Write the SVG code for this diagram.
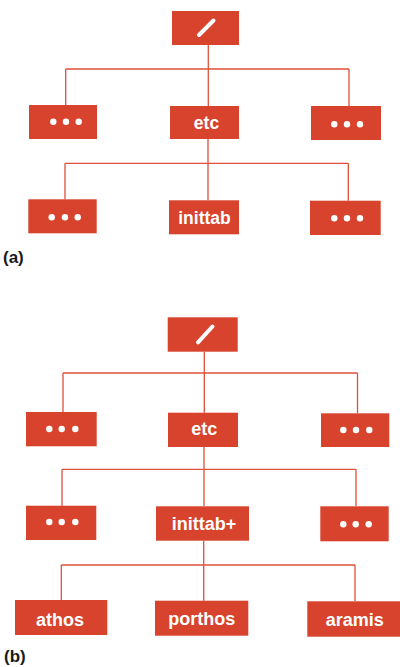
<svg xmlns="http://www.w3.org/2000/svg" width="400" height="667" viewBox="0 0 400 667">
  <style>
    .box { fill: #d8432d; }
    .link { fill: none; stroke: #e0503a; stroke-width: 1.3; }
    .lbl { fill: #ffffff; font-family: "Liberation Sans", Arial, sans-serif; font-weight: bold; text-anchor: middle; }
    .a { font-size: 17.5px; }
    .b { font-size: 18px; }
    .dot { fill: #ffffff; }
    .slash { stroke: #ffffff; stroke-width: 4; stroke-linecap: round; }
    .cap { fill: #1a1a1a; font-family: "Liberation Sans", Arial, sans-serif; font-weight: bold; font-size: 17px; }
  </style>

  <!-- tree (a) connectors -->
  <g id="links-a" class="link">
    <path d="M208.3 45 V69 M65.7 69 H349 M65.7 69 V105 M208.3 69 V106 M349 69 V106"/>
    <path d="M208 139 V163.3 M65 163.3 H348.3 M65 163.3 V199.3 M208 163.3 V200.3 M348.3 163.3 V200.7"/>
  </g>

  <!-- tree (a) nodes -->
  <g id="a-root">
    <rect class="box" x="172" y="11" width="67" height="34"/>
    <line class="slash" x1="199" y1="35" x2="213.5" y2="20.5"/>
  </g>
  <g id="a-left1">
    <rect class="box" x="29" y="105" width="68" height="34"/>
    <circle class="dot" cx="53.3" cy="121.7" r="3.2"/><circle class="dot" cx="66" cy="121.7" r="3.2"/><circle class="dot" cx="78.7" cy="121.7" r="3.2"/>
  </g>
  <g id="a-etc">
    <rect class="box" x="170" y="106" width="69" height="33"/>
    <text class="lbl a" x="206.5" y="129">etc</text>
  </g>
  <g id="a-right1">
    <rect class="box" x="311" y="106" width="70" height="34"/>
    <circle class="dot" cx="334.3" cy="124.3" r="3.2"/><circle class="dot" cx="347" cy="124.3" r="3.2"/><circle class="dot" cx="360" cy="124.3" r="3.2"/>
  </g>
  <g id="a-left2">
    <rect class="box" x="28.3" y="199.3" width="68.4" height="34"/>
    <circle class="dot" cx="51.7" cy="217.3" r="3.2"/><circle class="dot" cx="65" cy="217.3" r="3.2"/><circle class="dot" cx="77.7" cy="217.3" r="3.2"/>
  </g>
  <g id="a-inittab">
    <rect class="box" x="169" y="200.3" width="70" height="34"/>
    <text class="lbl a" x="204.5" y="224">inittab</text>
  </g>
  <g id="a-right2">
    <rect class="box" x="310" y="200.7" width="70.7" height="34.3"/>
    <circle class="dot" cx="334.3" cy="218.3" r="3.2"/><circle class="dot" cx="347" cy="218.3" r="3.2"/><circle class="dot" cx="360" cy="218.3" r="3.2"/>
  </g>
  <text class="cap" x="3" y="263">(a)</text>

  <!-- tree (b) connectors -->
  <g id="links-b" class="link">
    <path d="M204.3 351.7 V373 M63 373 H357.5 M63 373 V412 M204.3 373 V412.7 M357.5 373 V413.3"/>
    <path d="M204 447 V469.3 M62 469.3 H356 M62 469.3 V505.7 M204 469.3 V506.3 M356 469.3 V506.3"/>
    <path d="M203.7 540.7 V565 M61.3 565 H355 M61.3 565 V600 M203.7 565 V600.7 M355 565 V601.3"/>
  </g>

  <!-- tree (b) nodes -->
  <g id="b-root">
    <rect class="box" x="167.7" y="317.3" width="70" height="34.4"/>
    <line class="slash" x1="198" y1="342.3" x2="212.5" y2="326.5"/>
  </g>
  <g id="b-left1">
    <rect class="box" x="26" y="412" width="70.7" height="34.3"/>
    <circle class="dot" cx="49.3" cy="429" r="3.2"/><circle class="dot" cx="61.7" cy="429" r="3.2"/><circle class="dot" cx="75.3" cy="429" r="3.2"/>
  </g>
  <g id="b-etc">
    <rect class="box" x="168" y="412.7" width="70" height="34.3"/>
    <text class="lbl b" x="204.3" y="435">etc</text>
  </g>
  <g id="b-right1">
    <rect class="box" x="321" y="413.3" width="68.3" height="33.7"/>
    <circle class="dot" cx="343.3" cy="430" r="3.2"/><circle class="dot" cx="356" cy="430" r="3.2"/><circle class="dot" cx="369.3" cy="430" r="3.2"/>
  </g>
  <g id="b-left2">
    <rect class="box" x="26" y="505.7" width="70.3" height="34.3"/>
    <circle class="dot" cx="49.3" cy="522" r="3.2"/><circle class="dot" cx="61.7" cy="522" r="3.2"/><circle class="dot" cx="75.3" cy="522" r="3.2"/>
  </g>
  <g id="b-inittab">
    <rect class="box" x="156" y="506.3" width="93" height="34.4"/>
    <text class="lbl b" x="204" y="530">inittab+</text>
  </g>
  <g id="b-right2">
    <rect class="box" x="320.3" y="506.3" width="68.4" height="35"/>
    <circle class="dot" cx="343.3" cy="524.3" r="3.2"/><circle class="dot" cx="355.7" cy="524.3" r="3.2"/><circle class="dot" cx="368.7" cy="524.3" r="3.2"/>
  </g>
  <g id="b-athos">
    <rect class="box" x="15" y="600" width="92.3" height="35"/>
    <text class="lbl b" x="60" y="626">athos</text>
  </g>
  <g id="b-porthos">
    <rect class="box" x="155" y="600.7" width="93.3" height="35"/>
    <text class="lbl b" x="201.8" y="625">porthos</text>
  </g>
  <g id="b-aramis">
    <rect class="box" x="307.3" y="601.3" width="92.7" height="35.4"/>
    <text class="lbl b" x="354.7" y="626">aramis</text>
  </g>
  <text class="cap" x="4" y="662">(b)</text>
</svg>
